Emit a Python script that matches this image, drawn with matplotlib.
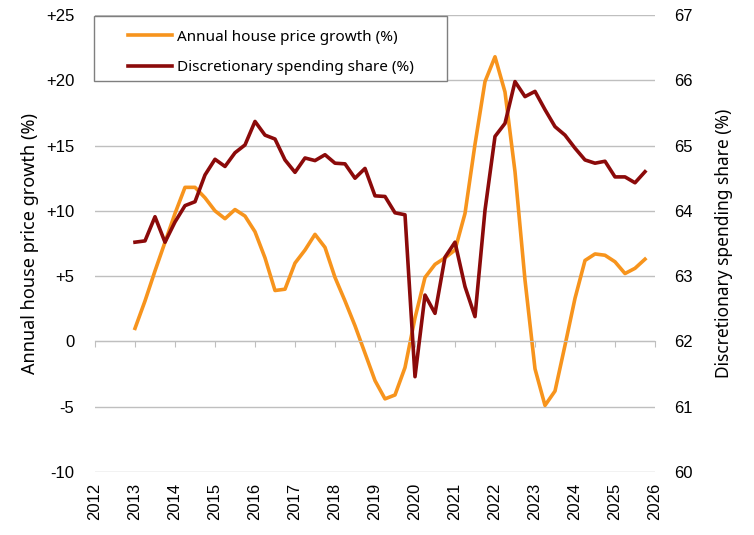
import numpy as np
import matplotlib
matplotlib.use("Agg")
import matplotlib.pyplot as plt
from matplotlib.patches import Rectangle

# Quarterly observations, 2013 Q1 to 2025 Q4
start_year = 2013
n_quarters = 52

house_price_growth = [
    1.0, 3.1, 5.4, 7.6,
    9.8, 11.8, 11.8, 11.0,
    10.0, 9.4, 10.1, 9.6,
    8.4, 6.4, 3.9, 4.0,
    6.0, 7.0, 8.2, 7.2,
    4.9, 3.1, 1.2, -0.9,
    -3.0, -4.4, -4.1, -2.0,
    1.8, 4.9, 5.9, 6.4,
    7.0, 9.8, 15.1, 19.9,
    21.8, 19.1, 13.0, 4.7,
    -2.1, -4.9, -3.8, -0.3,
    3.3, 6.2, 6.7, 6.6,
    6.1, 5.2, 5.6, 6.3,
]

discretionary_share = [
    63.52, 63.54, 63.91, 63.52,
    63.83, 64.08, 64.14, 64.55,
    64.79, 64.68, 64.89, 65.01,
    65.37, 65.16, 65.10, 64.78,
    64.59, 64.81, 64.77, 64.86,
    64.73, 64.72, 64.50, 64.65,
    64.23, 64.22, 63.97, 63.94,
    61.46, 62.71, 62.43, 63.29,
    63.52, 62.84, 62.38, 64.01,
    65.14, 65.34, 65.98, 65.75,
    65.83, 65.55, 65.29, 65.16,
    64.96, 64.78, 64.73, 64.76,
    64.52, 64.52, 64.43, 64.60,
]

year_ticks = list(range(2012, 2027))
left_ticks = [-10, -5, 0, 5, 10, 15, 20, 25]
left_labels = ['-10', '-5', '0', '+5', '+10', '+15', '+20', '+25']
right_ticks = [60, 61, 62, 63, 64, 65, 66, 67]

quarters = start_year + np.arange(n_quarters) / 4.0

orange = '#f7941d'
darkred = '#8b0a0a'
grid_col = '#bfbfbf'
tick_font = 'Liberation Sans'
label_font = 'Noto Sans'

fig = plt.figure(figsize=(7.54, 5.35), dpi=100)
ax = fig.add_axes([95 / 754, 1 - 472 / 535, 560 / 754, 457 / 535])
ax2 = ax.twinx()

# house price growth on the left axis
l1, = ax.plot(quarters, house_price_growth, color=orange, lw=2.6,
              solid_joinstyle='round', label='Annual house price growth (%)')
ax.set_xlim(2012, 2026)
ax.set_ylim(-10, 25)
ax.set_yticks(left_ticks)
ax.set_yticklabels(left_labels, fontfamily=tick_font, fontsize=12)
ax.yaxis.grid(True, color=grid_col, lw=1)
ax.set_axisbelow(True)
ax.tick_params(axis='y', length=0, pad=15)
for s in ['top', 'left', 'right']:
    ax.spines[s].set_visible(False)

# x axis line sits at zero, year labels stay at the bottom
ax.spines['bottom'].set_position(('data', 0))
ax.spines['bottom'].set_color(grid_col)
ax.set_xticks(year_ticks)
ax.tick_params(axis='x', direction='out', length=4, color=grid_col,
               labelbottom=False)
sec = ax.secondary_xaxis('bottom')
sec.set_xticks(year_ticks)
sec.set_xticklabels([str(y) for y in year_ticks], rotation=90,
                    fontfamily=tick_font, fontsize=12)
sec.tick_params(length=0, pad=8)
sec.spines['bottom'].set_visible(False)

ax.set_ylabel('Annual house price growth (%)', fontfamily=label_font,
              fontsize=13, labelpad=5)

# spending share on the right axis
l2, = ax2.plot(quarters, discretionary_share, color=darkred, lw=2.6,
               solid_joinstyle='round', label='Discretionary spending share (%)')
ax2.set_ylim(60, 67)
ax2.set_yticks(right_ticks)
ax2.set_yticklabels([str(t) for t in right_ticks], fontfamily=tick_font, fontsize=12)
ax2.tick_params(axis='y', length=0, pad=14)
for s in ['top', 'left', 'right', 'bottom']:
    ax2.spines[s].set_visible(False)
ax2.set_ylabel('Discretionary spending share (%)', fontfamily=label_font,
               fontsize=12.5, labelpad=16)

# legend box
ax2.add_patch(Rectangle((-0.002, 0.856), 0.63, 0.142, transform=ax.transAxes,
                        facecolor='white', edgecolor='#7f7f7f', lw=1, zorder=5,
                        clip_on=False))
leg = ax2.legend(handles=[l1, l2], loc='upper left', bbox_to_anchor=(0.059, 0.968),
                 frameon=False, borderpad=0, borderaxespad=0, handlelength=2.9,
                 handletextpad=0.3, labelspacing=1.0,
                 prop={'family': label_font, 'size': 11})
leg.set_zorder(6)

fig.savefig('out.png', dpi=100)
